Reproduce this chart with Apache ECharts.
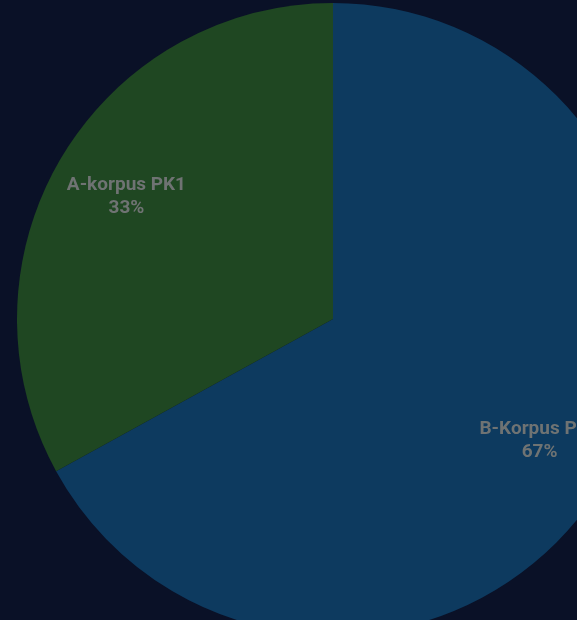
<!DOCTYPE html>
<html>
<head>
<meta charset="utf-8">
<script src="https://cdn.jsdelivr.net/npm/echarts@6/dist/echarts.min.js"></script>
<style>
  html, body { margin: 0; padding: 0; background: #0a1127; }
  #chart { width: 577px; height: 620px; }
</style>
</head>
<body>
<div id="chart"></div>
<script>
// Share of units per building
const categories = ['B-Korpus PK1', 'A-korpus PK1'];
const shares = [67, 33];
const sliceColors = ['#0d3a5f', '#1f4722'];

const data = categories.map((name, i) => ({
  name: name,
  value: shares[i],
  itemStyle: { color: sliceColors[i] }
}));

const chart = echarts.init(document.getElementById('chart'), null, { renderer: 'canvas' });
chart.setOption({
  backgroundColor: '#0a1127',
  animation: false,
  series: [
    {
      // filled slices
      type: 'pie',
      center: [333, 319],
      radius: [0, 316],
      startAngle: 90,
      clockwise: true,
      silent: true,
      label: { show: false },
      labelLine: { show: false },
      itemStyle: { borderWidth: 0 },
      data: data
    },
    {
      // transparent ring that carries the labels further out along each slice
      type: 'pie',
      center: [333, 319],
      radius: [158, 316],
      startAngle: 90,
      clockwise: true,
      silent: true,
      itemStyle: { color: 'rgba(0,0,0,0)', borderWidth: 0 },
      label: {
        show: true,
        position: 'inside',
        formatter: '{b}\n{d}%',
        color: '#6f7373',
        fontFamily: 'Roboto, "Liberation Sans", sans-serif',
        fontWeight: 'bold',
        fontSize: 19,
        lineHeight: 23,
        align: 'center'
      },
      labelLine: { show: false },
      data: categories.map((name, i) => ({ name: name, value: shares[i] }))
    }
  ]
});
</script>
</body>
</html>
